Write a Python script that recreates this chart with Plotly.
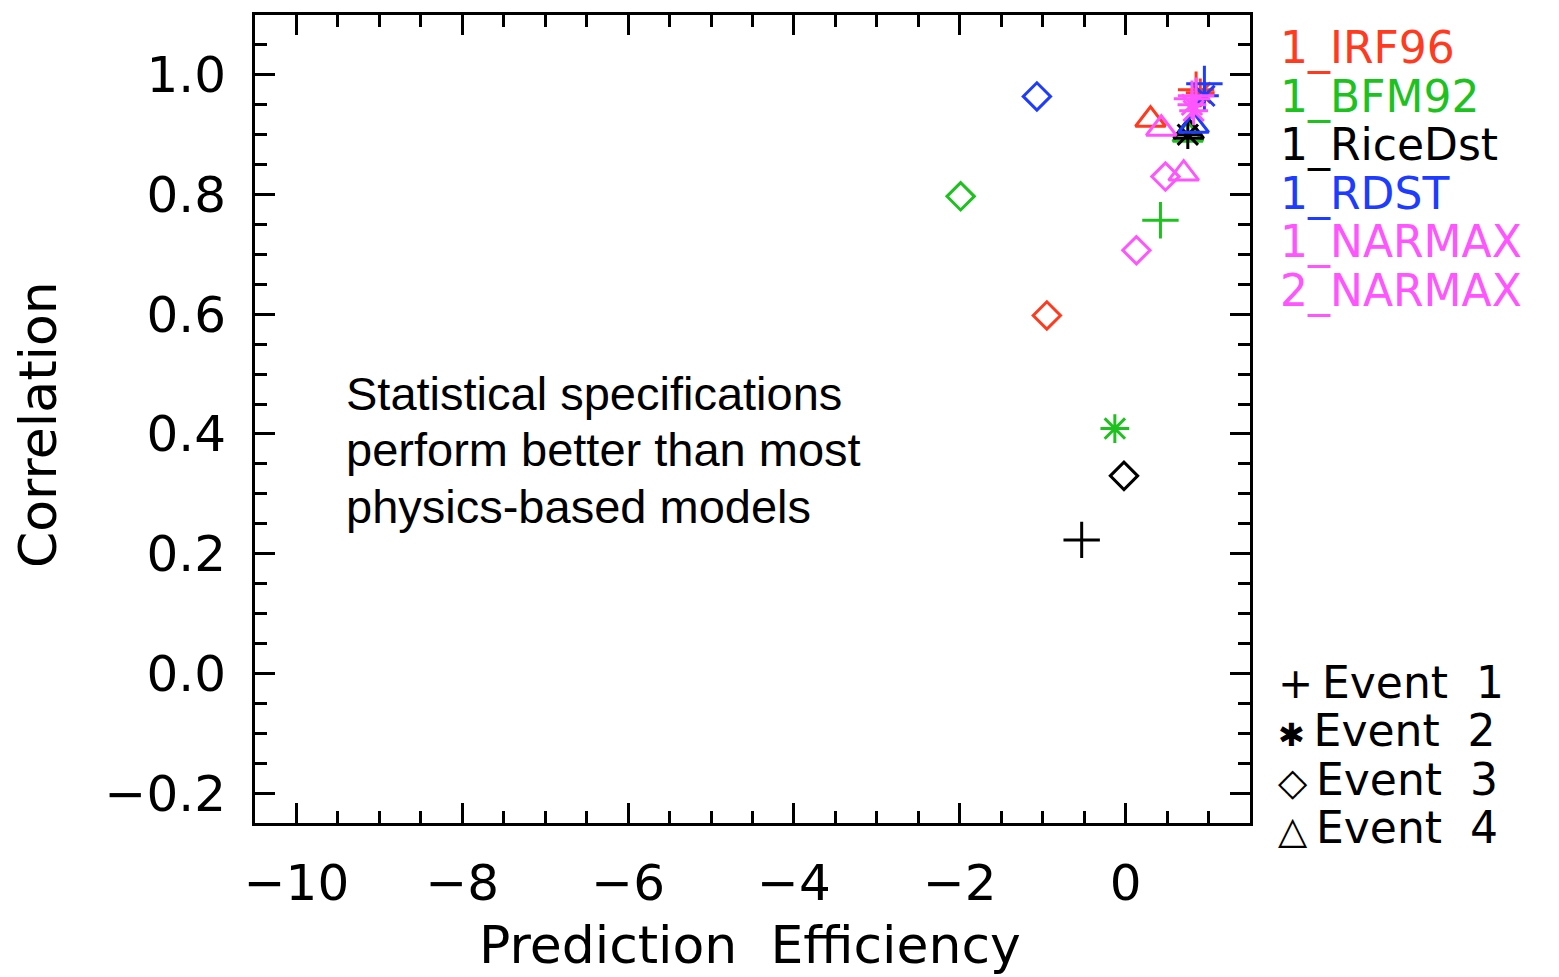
import plotly.graph_objects as go

# ---- data ----
models = ["1_IRF96", "1_BFM92", "1_RiceDst", "1_RDST", "1_NARMAX", "2_NARMAX"]
model_colors = ["#FF3A1E", "#1EC21E", "#000000", "#1E3CFF", "#FF55FF", "#FF55FF"]
events = ["Event  1", "Event  2", "Event  3", "Event  4"]
event_symbols = ["cross-thin-open", "asterisk-open", "diamond-open", "triangle-up-open"]
event_sizes = [26, 24, 21, 26]
event_glyphs = ["+", "✱", "◇", "△"]
event_glyph_sizes = [42, 32, 38, 38]

# prediction efficiency per model, events 1..4
pe = {
    "1_IRF96":   [0.85, 0.90, -0.95, 0.30],
    "1_BFM92":   [0.42, -0.13, -1.99, 0.75],
    "1_RiceDst": [-0.53, 0.75, -0.02, 0.76],
    "1_RDST":    [0.95, 0.95, -1.07, 0.82],
    "1_NARMAX":  [0.80, 0.80, 0.13, 0.43],
    "2_NARMAX":  [0.85, 0.82, 0.48, 0.70],
}
# correlation per model, events 1..4
corr = {
    "1_IRF96":   [0.975, 0.970, 0.598, 0.925],
    "1_BFM92":   [0.757, 0.409, 0.797, 0.900],
    "1_RiceDst": [0.223, 0.900, 0.330, 0.905],
    "1_RDST":    [0.985, 0.965, 0.964, 0.915],
    "1_NARMAX":  [0.960, 0.950, 0.707, 0.910],
    "2_NARMAX":  [0.965, 0.940, 0.830, 0.835],
}

x_ticks = [-10, -8, -6, -4, -2, 0]
y_ticks = [-0.2, 0.0, 0.2, 0.4, 0.6, 0.8, 1.0]
note_lines = ["Statistical specifications", "perform better than most", "physics-based models"]

FONT = "DejaVu Sans"
L, R, T, B = 255, 1250, 15, 823
W, H = 1559, 977

fig = go.Figure()
for m, c in zip(models, model_colors):
    for i in range(4):
        fig.add_trace(go.Scatter(
            x=[pe[m][i]], y=[corr[m][i]], mode="markers", showlegend=False,
            marker=dict(symbol=event_symbols[i], size=event_sizes[i], color=c,
                        line=dict(color=c, width=3)),
        ))

def px_x(p):
    return (p - L) / (R - L)

def px_y(p):
    return (B - p) / (B - T)

ann = []
# model labels
for k, (m, c) in enumerate(zip(models, model_colors)):
    ann.append(dict(x=px_x(1278), y=px_y(48 + k * 48.5), xref="paper", yref="paper",
                    text=m, showarrow=False, xanchor="left", yanchor="middle",
                    font=dict(family=FONT, size=44, color=c)))
# event labels
for k, (e, g, gs) in enumerate(zip(events, event_glyphs, event_glyph_sizes)):
    ann.append(dict(x=px_x(1276), y=px_y(682 + k * 48.5), xref="paper", yref="paper",
                    text=f'<span style="font-size:{gs}px">{g}</span>\u2009{e}', showarrow=False,
                    xanchor="left", yanchor="middle",
                    font=dict(family=FONT, size=44, color="black")))
# note
for k, t in enumerate(note_lines):
    ann.append(dict(x=px_x(344), y=px_y(393 + k * 56.5), xref="paper", yref="paper",
                    text=t, showarrow=False, xanchor="left", yanchor="middle",
                    font=dict(family="Liberation Sans", size=47, color="black")))
# axis titles
ann.append(dict(x=px_x(750), y=px_y(945), xref="paper", yref="paper",
                text="Prediction  Efficiency", showarrow=False, xanchor="center", yanchor="middle",
                font=dict(family=FONT, size=52, color="black")))
ann.append(dict(x=px_x(38), y=px_y(425), xref="paper", yref="paper",
                text="Correlation", showarrow=False, xanchor="center", yanchor="middle",
                textangle=-90, font=dict(family=FONT, size=52, color="black")))

axis_common = dict(showline=True, linecolor="black", linewidth=3, mirror="ticks",
                   ticks="inside", tickcolor="black", tickwidth=3, ticklen=20,
                   showgrid=False, zeroline=False,
                   tickfont=dict(family=FONT, size=50, color="black"))

fig.update_layout(
    width=W, height=H,
    margin=dict(l=L, r=W - R, t=T, b=H - B),
    paper_bgcolor="white", plot_bgcolor="white",
    annotations=ann,
    xaxis=dict(range=[-10.5, 1.5], tickvals=x_ticks, ticktext=[str(v).replace("-", "\u2212") for v in x_ticks],
               minor=dict(dtick=0.5, ticks="inside", ticklen=12, tickwidth=3, tickcolor="black", showgrid=False),
               ticklabelstandoff=14, **axis_common),
    yaxis=dict(range=[-0.25, 1.1], tickvals=y_ticks,
               ticktext=[f"{v:.1f}".replace("-", "\u2212") for v in y_ticks],
               minor=dict(dtick=0.05, ticks="inside", ticklen=12, tickwidth=3, tickcolor="black", showgrid=False),
               ticklabelstandoff=16, **axis_common),
)

fig.write_html("out.html")
